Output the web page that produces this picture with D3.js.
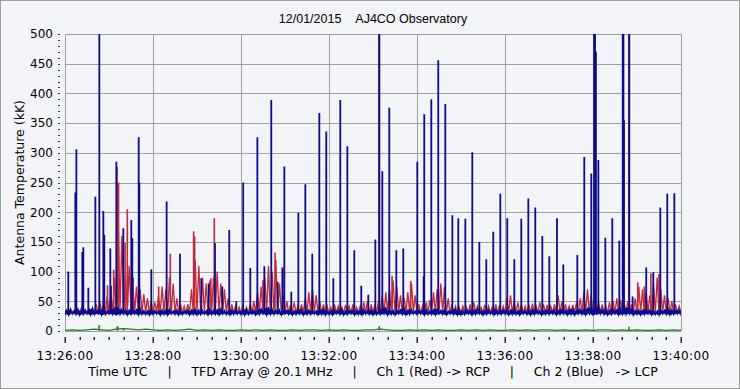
<!DOCTYPE html>
<html>
<head>
  <meta charset="utf-8">
  <style>
    body { margin: 0; background: #f3f4f8; }
    text { font-family: "DejaVu Sans", Verdana, sans-serif; fill: #000; }
    .title { font-family: "Liberation Sans", Arial, sans-serif; font-size: 12.5px; }
    .grid line { stroke: #a0a0a0; stroke-width: 1px; shape-rendering: crispEdges; }
    .trace { fill: none; stroke-linejoin: miter; }
  </style>
</head>
<body>
  <svg width="740" height="389"></svg>
  <script src="https://d3js.org/d3.v7.min.js"></script>
  <script>

  // seconds after 13:26:00 UTC, 5 s per sample: upper edge of the noisy baseline
  var redTop = [
    36,38,35,37,39,36,38,40,45,50,48,58,
    62,90,190,160,95,110,85,75,70,62,55,50,
    48,60,75,70,90,80,55,45,42,45,70,120,
    110,90,80,85,90,100,80,70,55,45,42,40,
    42,40,45,50,65,75,90,110,100,120,80,60,
    50,45,48,42,45,55,65,70,60,50,45,42,
    40,45,42,40,44,42,45,40,42,48,50,45,
    45,50,60,65,70,85,75,60,55,65,80,60,
    45,42,48,52,65,70,80,75,55,45,42,40,
    42,40,45,48,42,40,44,42,40,45,43,42,
    55,60,50,48,45,42,44,46,42,48,45,44,
    42,45,60,50,45,42,44,48,55,65,70,60,
    50,48,45,42,48,50,55,52,48,50,45,55,
    75,70,65,60,80,90,70,60,55,50,45,42,
    40
  ];
  var blueTop = [
    35,36,34,37,35,36,34,38,35,36,37,34,
    36,38,40,37,36,35,37,36,38,35,34,36,
    35,34,36,35,37,34,36,35,34,36,35,37,
    36,35,34,37,35,36,38,35,34,36,35,34,
    35,37,34,36,35,38,36,40,37,35,36,34,
    35,36,34,35,37,34,36,35,34,36,37,35,
    34,36,35,37,34,35,36,34,35,37,35,36,
    35,34,37,40,36,35,34,36,38,35,37,34,
    36,35,37,34,36,38,35,36,34,35,37,36,
    35,34,36,35,37,34,35,36,34,37,35,36,
    36,35,37,34,36,35,34,36,37,35,34,36,
    35,36,34,37,35,36,38,35,37,36,38,40,
    38,42,37,36,35,37,36,38,36,40,37,35,
    36,35,37,36,35,34,36,35,37,36,35,36,
    35
  ];
  // lower edge of the blue band, same 5 s samples
  var blueBottom = [
    27,26,28,27,26,27,28,26,27,28,26,27,
    28,27,26,27,28,26,27,28,26,27,27,26,
    27,28,26,27,26,28,27,26,27,28,26,27,
    26,27,28,26,27,27,26,28,27,26,27,28,
    27,26,27,28,26,27,28,26,27,27,28,26,
    28,27,26,27,28,26,27,27,28,26,27,26,
    27,26,28,27,26,27,28,26,27,26,28,27,
    26,27,27,28,26,27,26,28,27,26,27,28,
    27,28,26,27,27,26,28,27,26,28,27,26,
    26,27,28,26,27,28,26,27,28,26,27,27,
    28,26,27,27,26,28,27,26,27,28,26,27,
    27,28,26,27,28,26,27,26,28,27,26,28,
    26,27,28,27,26,27,28,26,27,27,28,26,
    27,26,27,28,26,27,26,28,27,26,27,28,
    27
  ];
  var redFloor = 31;

  // green channel, 10 s per sample
  var green = [
    1,2,1,2,3,2,1,3,4,3,2,3,2,1,2,1,2,3,1,2,1,2,1,1,2,1,2,1,
    2,1,1,2,1,2,2,1,2,1,2,1,1,2,2,3,2,1,1,2,1,2,1,2,1,1,2,1,
    2,1,2,1,1,2,1,2,1,2,2,1,2,1,1,2,1,2,2,1,2,1,2,1,1,2,1,2,
    1
  ];

  // spikes: [seconds after 13:26:00, kK]
  var blueSpikes = [
    [4.5,100],[14.1,233],[15.5,306],[23.6,133],[25,141],[31.8,73],[41.4,226],[46.8,600],
    [52.3,202],[53.6,162],[61.8,139],[62.7,76],[70,285],[79.5,173],[90.4,187],[91.8,156],
    [100.5,326],[101.4,250],[117.7,104],[138.6,218],[156.8,130],[185.9,89],[195.9,80],
    [204.5,148],[214.5,75],[224,170],[233.6,50],[243,250],[252.7,106],[262.3,326],[271.8,109],
    [281.3,389],[290,83],[296.4,107],[299.1,277],[308.6,66],[318.2,199],[327.7,247],[337.2,130],
    [346.8,367],[356.3,336],[365.9,89],[375.4,389],[385,311],[394.5,136],
    [404,76],[413.6,61],[423.2,154],[428.7,600],[432.7,269],[442.2,376],[451.8,136],[461.3,139],
    [480.4,285],[489,92],[489.9,365],[499.5,390],[509,456],[518.6,382],[528.2,195],[536.3,190],
    [545.9,189],[555.4,301],[565,150],[574.5,121],[584,167],[593.6,231],[603.1,190],
    [612.7,121],[622.2,189],[631.8,223],[641.3,208],[650.9,160],[660.4,126],[670.9,190],
    [679.5,112],[698.6,128],[708.1,293],[717.7,265],[721.5,600],[722.8,600],[724,470],
    [727.3,288],[736.8,157],[746.3,190],[755.9,152],[760.5,600],[761.5,600],[762.3,355],
    [769.5,600],[774,58],[792.6,107],[802.2,99],[811.8,208],[821.3,231],[830.9,232]
  ];
  var redSpikes = [
    [58,77],[66.4,103],[71,276],[73,250],[82,148],[85,205],[93,90],[127.7,75],[143.6,130],
    [175.4,168],[176.8,159],[199,89],[203.6,190],[270,86],[286.4,132],[428,600],[446,93],
    [471.4,84],[768.8,600],[781,82],[790,75],[799,97],[810,96]
  ];
  var greenSpikes = [[46.5,10],[71,7],[72,8],[80,5],[428.5,8],[769,7]];

  var yTicks = [0,50,100,150,200,250,300,350,400,450,500];

  var svg = d3.select("svg"),
      W = +svg.attr("width"), H = +svg.attr("height"),
      margin = {top: 34, right: 59, bottom: 58, left: 65},
      width = W - margin.left - margin.right,
      height = H - margin.top - margin.bottom;

  svg.append("rect").attr("x", 0.5).attr("y", 0.5).attr("width", W - 1).attr("height", H - 1)
    .attr("fill", "#f3f4f8").attr("stroke", "#a0a0a0");

  var t0 = new Date(Date.UTC(2015, 11, 1, 13, 26, 0));
  function at(s) { return new Date(t0.getTime() + s * 1000); }

  var x = d3.scaleUtc().domain([t0, at(840)]).range([0, width]),
      y = d3.scaleLinear().domain([0, 500]).range([height, 0]);

  var g = svg.append("g").attr("transform", "translate(" + margin.left + "," + margin.top + ")");

  svg.append("defs").append("clipPath").attr("id", "clip")
    .append("rect").attr("width", width).attr("height", height);

  // grid
  var grid = g.append("g").attr("class", "grid");
  grid.selectAll(".h").data(yTicks).enter().append("line")
    .attr("x1", 0).attr("x2", width)
    .attr("y1", function(d) { return Math.round(y(d)) + 0.5; })
    .attr("y2", function(d) { return Math.round(y(d)) + 0.5; });
  grid.selectAll(".v").data(x.ticks(d3.utcMinute.every(2))).enter().append("line")
    .attr("y1", 0).attr("y2", height)
    .attr("x1", function(d) { return Math.round(x(d)) + 0.5; })
    .attr("x2", function(d) { return Math.round(x(d)) + 0.5; });

  // y axis: dotted minor ticks left of plot
  var yMinor = d3.range(0, 501, 10);
  g.selectAll(".ytick").data(yMinor).enter().append("rect")
    .attr("x", -7).attr("width", 2).attr("height", 1)
    .attr("y", function(d) { return Math.round(y(d)); })
    .attr("fill", "#333");
  g.selectAll(".ylab").data(yTicks).enter().append("text")
    .attr("x", -12).attr("y", function(d) { return y(d); })
    .attr("dy", "0.36em").attr("text-anchor", "end")
    .style("font-size", "12px")
    .text(function(d) { return d; });

  // x axis ticks below plot
  var xMinor = x.ticks(d3.utcSecond.every(20));
  g.selectAll(".xtick").data(xMinor).enter().append("rect")
    .attr("x", function(d) { return Math.round(x(d)) - 0.5; })
    .attr("y", height + 6)
    .attr("width", 1.5)
    .attr("height", function(d) { return d.getUTCSeconds() === 0 && d.getUTCMinutes() % 2 === 0 ? 6 : 3; })
    .attr("fill", "#1c2a6a");
  g.selectAll(".xlab").data(x.ticks(d3.utcMinute.every(2))).enter().append("text")
    .attr("x", function(d) { return x(d); })
    .attr("y", height + 29)
    .attr("text-anchor", "middle")
    .style("font-size", "12px").style("letter-spacing", "0.4px")
    .text(d3.utcFormat("%H:%M:%S"));

  // traces
  var plot = g.append("g").attr("clip-path", "url(#clip)");
  var line = d3.line().x(function(d) { return x(at(d[0])); }).y(function(d) { return y(d[1]); });

  function zigzag(top, bottom, step) {
    var pts = [];
    top.forEach(function(v, i) {
      pts.push([i * step, typeof bottom === "number" ? bottom : bottom[i]]);
      pts.push([i * step + step / 2, v]);
    });
    return pts;
  }
  function spikePath(spikes, base) {
    return spikes.map(function(d) {
      return "M" + x(at(d[0])) + "," + y(base) + "V" + y(d[1]);
    }).join("");
  }

  plot.append("path").attr("class", "trace")
    .attr("d", line(zigzag(redTop, redFloor, 5)))
    .attr("stroke", "#c02a3a").attr("stroke-width", 1.3);
  plot.append("path").attr("class", "trace")
    .attr("d", spikePath(redSpikes, redFloor))
    .attr("stroke", "#c02a3a").attr("stroke-width", 1.6);

  // blue band: filled envelope plus the jagged trace over it
  var band = d3.area().curve(d3.curveStep)
    .x(function(d, i) { return x(at(i * 5)); })
    .y0(function(d, i) { return y(blueBottom[i] + 1); })
    .y1(function(d) { return y(d - 1); });
  plot.append("path").attr("d", band(blueTop)).attr("fill", "#0c0c8a");
  plot.append("path").attr("class", "trace")
    .attr("d", line(zigzag(blueTop, blueBottom, 5)))
    .attr("stroke", "#0c0c8a").attr("stroke-width", 1.1);
  plot.append("path").attr("class", "trace")
    .attr("d", spikePath(blueSpikes, 28))
    .attr("stroke", "#0c0c8a").attr("stroke-width", 1.8);

  plot.append("path").attr("class", "trace")
    .attr("d", line(green.map(function(v, i) { return [i * 10, v]; })))
    .attr("stroke", "#1f7a1f").attr("stroke-width", 1.2);
  plot.append("path").attr("class", "trace")
    .attr("d", spikePath(greenSpikes, 1))
    .attr("stroke", "#1f7a1f").attr("stroke-width", 1.5);

  // titles (non-breaking spaces keep the wide gaps)
  var nb = "\u00a0";
  function gap(n) { return d3.range(n).map(function() { return nb; }).join(""); }
  svg.append("text").attr("class", "title")
    .attr("x", margin.left + width / 2).attr("y", 23).attr("text-anchor", "middle")
    .text("12/01/2015" + gap(4) + "AJ4CO Observatory");

  svg.append("text")
    .attr("transform", "translate(24," + (margin.top + height / 2) + ") rotate(-90)")
    .attr("text-anchor", "middle")
    .style("font-size", "12.5px")
    .text("Antenna Temperature (kK)");

  var sep = gap(5) + "|" + gap(5);
  svg.append("text")
    .attr("x", 373).attr("y", 376).attr("text-anchor", "middle")
    .style("font-size", "12.5px")
    .text("Time UTC" + sep + "TFD Array @ 20.1 MHz" + sep + "Ch 1 (Red) -> RCP" + sep + "Ch 2 (Blue)" + gap(3) + "-> LCP");

  </script>
</body>
</html>
